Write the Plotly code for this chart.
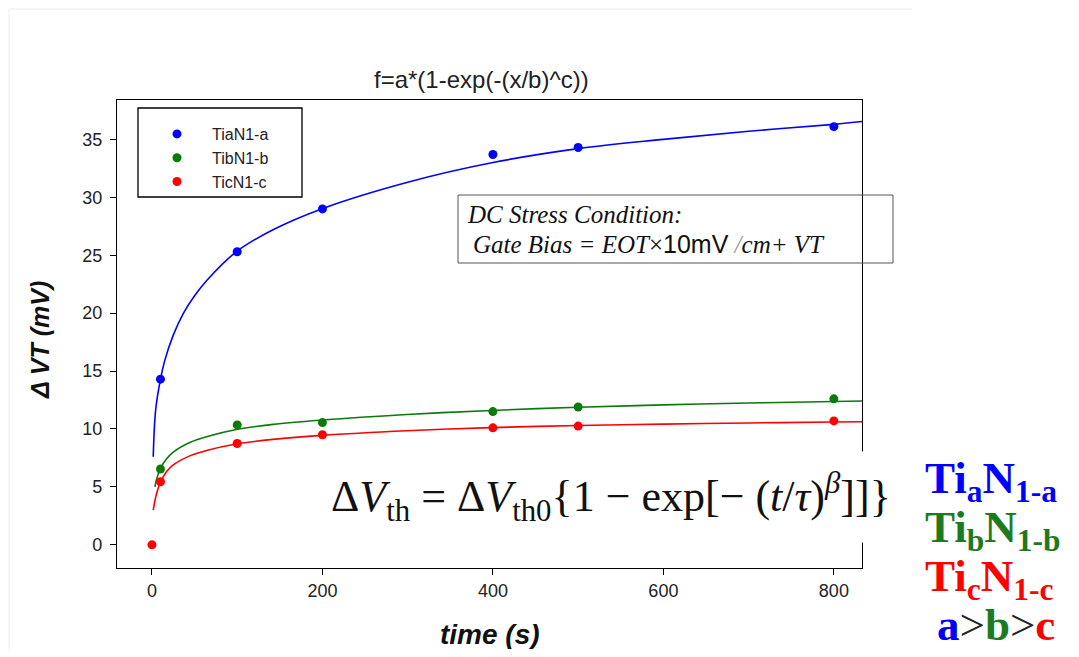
import plotly.graph_objects as go

# ---------------- data ----------------
series_names = ["TiaN1-a", "TibN1-b", "TicN1-c"]
series_colors = ["#0000FF", "#0A7A0A", "#FF0000"]

blue_x = [10, 100, 200, 400, 500, 800]
blue_y = [14.3, 25.3, 29.0, 33.7, 34.3, 36.1]
green_x = [10, 100, 200, 400, 500, 800]
green_y = [6.55, 10.35, 10.55, 11.5, 11.9, 12.6]
red_x = [0, 10, 100, 200, 400, 500, 800]
red_y = [0.0, 5.45, 8.75, 9.5, 10.1, 10.25, 10.7]

# fitted curves f=a*(1-exp(-(x/b)^c))
blue_fit_x = [1.5, 4.3, 10, 15, 25, 37, 50, 64, 99, 142, 199, 300, 400, 500, 600, 700, 800, 840]
blue_fit_y = [7.6, 11.6, 14.3, 15.9, 18.1, 20.0, 21.5, 22.8, 25.3, 27.2, 29.0, 31.3, 33.0, 34.2, 35.0, 35.7, 36.3, 36.6]
green_fit_x = [3.5, 5, 10, 17, 25, 45, 64, 99, 142, 199, 299, 398, 500, 600, 700, 800, 840]
green_fit_y = [5.0, 5.56, 6.6, 7.4, 8.0, 8.85, 9.33, 9.95, 10.4, 10.77, 11.25, 11.6, 11.88, 12.08, 12.24, 12.37, 12.42]
red_fit_x = [1.5, 5.5, 10, 17, 25, 45, 64, 99, 142, 199, 299, 398, 500, 600, 700, 800, 840]
red_fit_y = [3.0, 4.45, 5.4, 6.3, 6.9, 7.7, 8.15, 8.7, 9.1, 9.45, 9.85, 10.12, 10.3, 10.42, 10.52, 10.6, 10.63]

x_ticks = [0, 200, 400, 600, 800]
y_ticks = [0, 5, 10, 15, 20, 25, 30, 35]

# ---------------- figure ----------------
# page body has an 8px margin, so the figure is sized to fit the 1079x657 window
W, H = 1063, 641
L, R, T, B = 109, 209, 92, 81
PW, PH = W - L - R, H - T - B
OFF = 8  # screen offset of the figure


def px(xs):
    """screen x -> paper x"""
    return (xs - OFF - L) / PW


def py(ys):
    """screen y -> paper y"""
    return (H - B - (ys - OFF)) / PH


fig = go.Figure()

for fx, fy, col in [(blue_fit_x, blue_fit_y, series_colors[0]),
                    (green_fit_x, green_fit_y, series_colors[1]),
                    (red_fit_x, red_fit_y, series_colors[2])]:
    fig.add_trace(go.Scatter(x=fx, y=fy, mode="lines", line=dict(color=col, width=1.6, shape="spline"),
                             showlegend=False, hoverinfo="skip"))

for i, (dx, dy) in enumerate([(blue_x, blue_y), (green_x, green_y), (red_x, red_y)]):
    fig.add_trace(go.Scatter(x=dx, y=dy, mode="markers", name=series_names[i],
                             marker=dict(color=series_colors[i], size=9),
                             legendgroup=f"g{i}", cliponaxis=False))

axis_common = dict(showgrid=False, zeroline=False, showline=True, linecolor="black", linewidth=1.3,
                   mirror=True, ticks="outside", ticklen=6, tickcolor="black", tickwidth=1.2,
                   tickfont=dict(family="Liberation Sans, Arial", size=18, color="#222"))

fig.update_xaxes(range=[-41, 833], tickvals=x_ticks, **axis_common)
fig.update_yaxes(range=[-2, 38.4], tickvals=y_ticks, ticklabelstandoff=4, **axis_common)

shapes = [
    # legend frame
    dict(type="rect", xref="paper", yref="paper", x0=px(138), x1=px(302), y0=py(197), y1=py(108),
         line=dict(color="black", width=1.3), fillcolor="rgba(0,0,0,0)"),
    # DC stress box
    dict(type="rect", xref="paper", yref="paper", x0=px(458), x1=px(893), y0=py(263), y1=py(195),
         line=dict(color="#555", width=1), fillcolor="rgba(0,0,0,0)"),
    # faint slide border
    dict(type="line", xref="paper", yref="paper", x0=px(9), x1=px(9), y0=py(9), y1=py(649),
         line=dict(color="#ececec", width=1)),
    dict(type="line", xref="paper", yref="paper", x0=px(9), x1=px(912), y0=py(9), y1=py(9),
         line=dict(color="#ececec", width=1)),
]

serif = "Liberation Serif, Times New Roman, serif"
annotations = [
    dict(text="f=a*(1-exp(-(x/b)^c))", x=px(481), y=py(80), xref="paper", yref="paper",
         showarrow=False, xanchor="center", yanchor="middle",
         font=dict(family="Liberation Sans, Arial", size=24, color="#222")),
    dict(text="<b><i>time (s)</i></b>", x=px(490), y=py(634), xref="paper", yref="paper",
         showarrow=False, xanchor="center", yanchor="middle",
         font=dict(family="Liberation Sans, Arial", size=28, color="#111")),
    dict(text="<b><i>\u0394 VT (mV)</i></b>", x=px(40), y=py(340), xref="paper", yref="paper",
         showarrow=False, xanchor="center", yanchor="middle", textangle=-90,
         font=dict(family="Liberation Sans, Arial", size=25, color="#111")),
    dict(text="<i>DC Stress Condition:</i>", x=px(465), y=py(214), xref="paper", yref="paper",
         showarrow=False, xanchor="left", yanchor="middle",
         font=dict(family=serif, size=25, color="#111")),
    dict(text="<i>Gate Bias = EOT</i>\u00d7<span style='font-family:Liberation Sans, Arial'>10mV</span>"
              " <span style='color:#999'><i>/</i></span><i>cm+ VT</i>",
         x=px(471), y=py(244), xref="paper", yref="paper",
         showarrow=False, xanchor="left", yanchor="middle",
         font=dict(family=serif, size=25, color="#111")),
    dict(text="\u0394<i>V</i><sub>th</sub> = \u0394<i>V</i><sub>th0</sub>{1 \u2212 exp[\u2212 (<i>t</i>/<i>\u03c4</i>)"
              "<sup><i>\u03b2</i></sup>]]}",
         x=px(611), y=py(497), xref="paper", yref="paper",
         showarrow=False, xanchor="center", yanchor="middle", bgcolor="white", borderpad=14,
         font=dict(family=serif, size=44, color="#111")),
]

right_rows = [
    ("<b>Ti<sub>a</sub>N<sub>1-a</sub></b>", series_colors[0], 481),
    ("<b>Ti<sub>b</sub>N<sub>1-b</sub></b>", "#1E7A1E", 530),
    ("<b>Ti<sub>c</sub>N<sub>1-c</sub></b>", series_colors[2], 579),
]
for txt, col, yc in right_rows:
    annotations.append(dict(text=txt, x=px(923), y=py(yc), xref="paper", yref="paper",
                            showarrow=False, xanchor="left", yanchor="middle",
                            font=dict(family=serif, size=45, color=col)))
annotations.append(dict(
    text="<b><span style='color:#0000FF'>a</span></b><span style='color:#222'>&gt;</span>"
         "<b><span style='color:#1E7A1E'>b</span></b><span style='color:#222'>&gt;</span>"
         "<b><span style='color:#FF0000'>c</span></b>",
    x=px(935), y=py(625), xref="paper", yref="paper", showarrow=False, xanchor="left", yanchor="middle",
    font=dict(family=serif, size=45, color="#222")))

fig.update_layout(
    width=W, height=H, margin=dict(l=L, r=R, t=T, b=B),
    paper_bgcolor="white", plot_bgcolor="white",
    showlegend=True,
    legend=dict(x=px(142), y=py(117), xanchor="left", yanchor="top", bgcolor="rgba(0,0,0,0)",
                borderwidth=0, tracegroupgap=0, itemwidth=60,
                font=dict(family="Liberation Sans, Arial", size=16, color="#222")),
    shapes=shapes, annotations=annotations,
)

fig.write_html("out.html")
